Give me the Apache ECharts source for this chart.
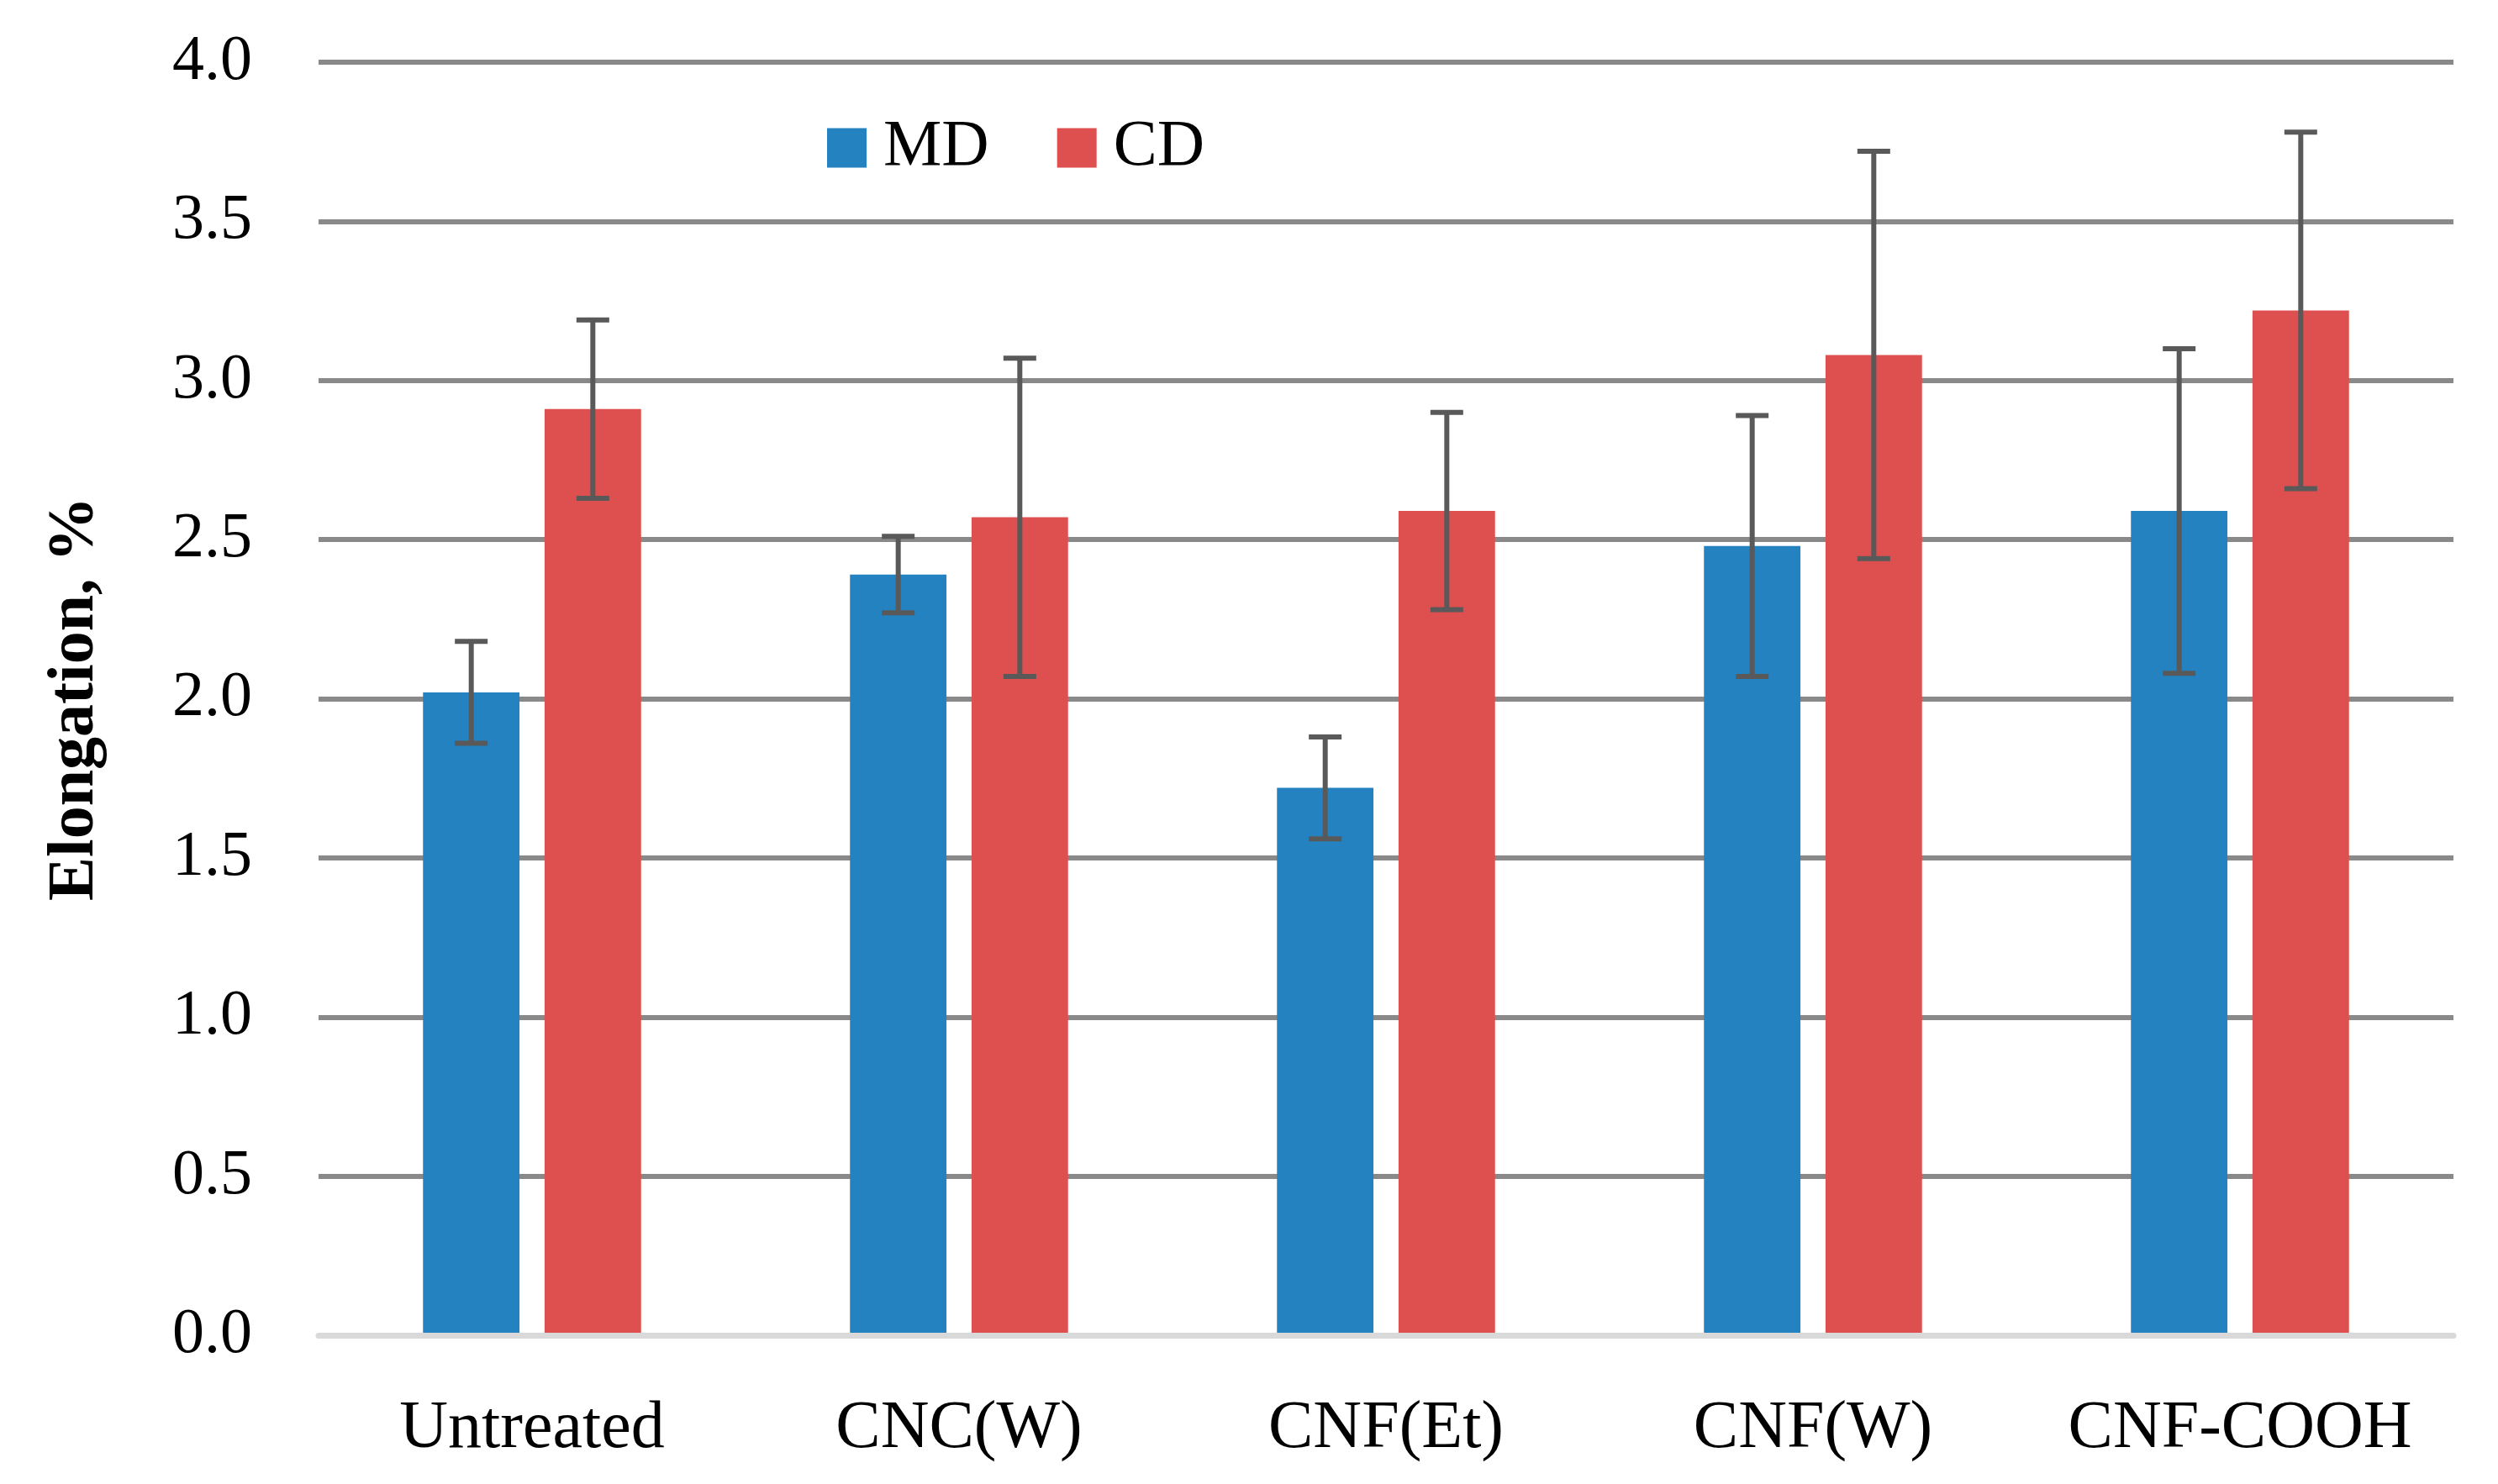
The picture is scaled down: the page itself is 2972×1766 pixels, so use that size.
<!DOCTYPE html>
<html>
<head>
<meta charset="utf-8">
<script src="https://cdn.jsdelivr.net/npm/echarts@6/dist/echarts.min.js"></script>
<style>
html,body{margin:0;padding:0;background:#fff;}
#c{width:2972px;height:1766px;}
</style>
</head>
<body>
<div id="c"></div>
<script>
const categories = ['Untreated', 'CNC(W)', 'CNF(Et)', 'CNF(W)', 'CNF-COOH'];
const mdValues = [2.02, 2.39, 1.72, 2.48, 2.59];
const mdErrors = [0.16, 0.12, 0.16, 0.41, 0.51];
const cdValues = [2.91, 2.57, 2.59, 3.08, 3.22];
const cdErrors = [0.28, 0.50, 0.31, 0.64, 0.56];
const yTicks = ['0.0','0.5','1.0','1.5','2.0','2.5','3.0','3.5','4.0'];

const BAR_W = 0.226, BAR_GAP = 0.26;
const FONT = '"Liberation Serif", "Times New Roman", serif';

function errSeries(name, values, errors, sign) {
  return {
    type: 'custom',
    name: name + ' err',
    z: 5,
    silent: true,
    data: values.map((v, i) => [i, v, errors[i]]),
    renderItem: function (params, api) {
      const i = api.value(0), v = api.value(1), e = api.value(2);
      const band = api.size([1, 0])[0];
      const off = sign * band * BAR_W * (1 + BAR_GAP) / 2;
      const t = api.coord([i, v + e]);
      const b = api.coord([i, v - e]);
      const x = t[0] + off;
      const half = 19.5;
      const st = {stroke: '#595959', lineWidth: 6};
      return {
        type: 'group',
        children: [
          {type: 'line', shape: {x1: x, y1: t[1], x2: x, y2: b[1]}, style: st},
          {type: 'line', shape: {x1: x - half, y1: t[1], x2: x + half, y2: t[1]}, style: st},
          {type: 'line', shape: {x1: x - half, y1: b[1], x2: x + half, y2: b[1]}, style: st}
        ]
      };
    }
  };
}

const chart = echarts.init(document.getElementById('c'), null, {renderer: 'canvas'});
chart.setOption({
  animation: false,
  backgroundColor: '#ffffff',
  textStyle: {fontFamily: FONT},
  grid: {left: 379, right: 53, top: 74, bottom: 177},
  legend: {
    data: ['MD', 'CD'],
    left: 979, top: 132,
    icon: 'rect', itemWidth: 47, itemHeight: 47, itemGap: 81,
    textStyle: {fontFamily: FONT, fontSize: 78, color: '#000', padding: [0, 0, 0, 15]}
  },
  xAxis: {
    type: 'category',
    data: categories,
    z: 3,
    axisLine: {show: true, lineStyle: {color: '#D9D9D9', width: 7}},
    axisTick: {show: false},
    axisLabel: {fontFamily: FONT, fontSize: 80, color: '#000', margin: 72, interval: 0}
  },
  yAxis: {
    type: 'value',
    min: 0, max: 4, interval: 0.5,
    name: 'Elongation, %',
    nameLocation: 'middle',
    nameRotate: 90,
    nameGap: 250,
    nameTextStyle: {fontFamily: FONT, fontSize: 78, fontWeight: 'bold', color: '#000'},
    axisLine: {show: false},
    axisTick: {show: false},
    axisLabel: {fontFamily: FONT, fontSize: 76, color: '#000', margin: 79,
      formatter: function (v) { return yTicks[Math.round(v / 0.5)]; }},
    splitLine: {show: true, lineStyle: {color: '#898989', width: 6}}
  },
  series: [
    {name: 'MD', type: 'bar', data: mdValues, barWidth: (BAR_W * 100) + '%', barGap: (BAR_GAP * 100) + '%',
      itemStyle: {color: '#2482C0'}},
    {name: 'CD', type: 'bar', data: cdValues, barWidth: (BAR_W * 100) + '%', barGap: (BAR_GAP * 100) + '%',
      itemStyle: {color: '#DE504F'}},
    errSeries('MD', mdValues, mdErrors, -1),
    errSeries('CD', cdValues, cdErrors, 1)
  ]
});
</script>
</body>
</html>
